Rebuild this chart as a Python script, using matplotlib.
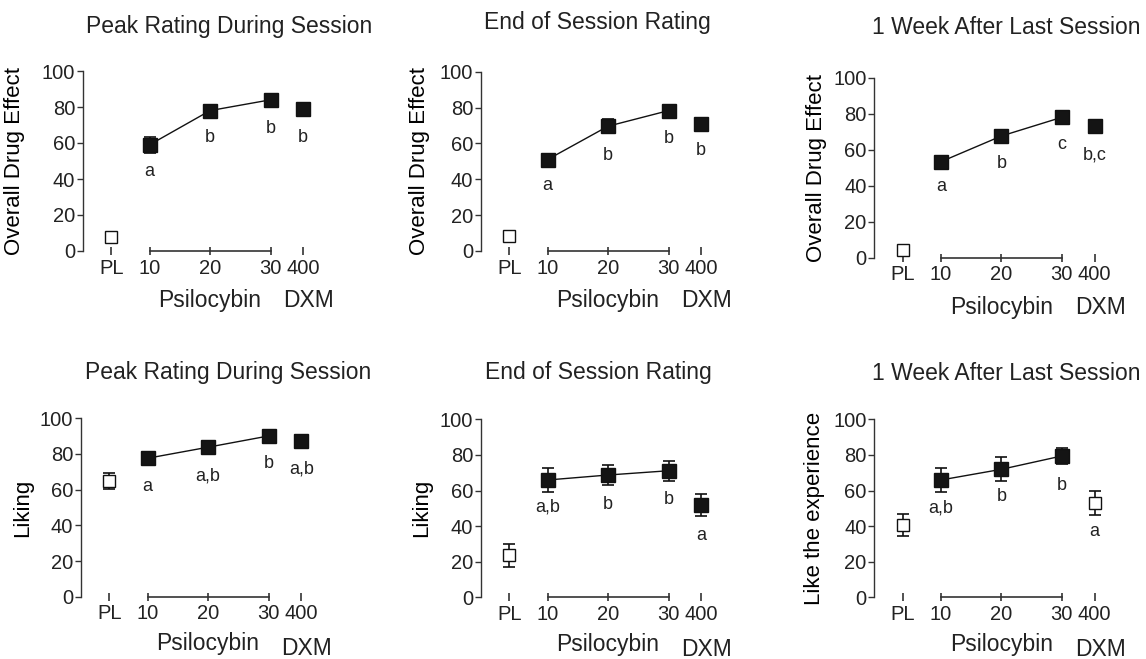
import matplotlib
matplotlib.use('Agg')
import matplotlib.pyplot as plt

plt.rcParams.update({
    'font.family': ['Liberation Sans', 'DejaVu Sans'],
    'text.color': '#222222',
    'axes.linewidth': 1.0,
    'axes.edgecolor': '#333333',
    'xtick.color': '#333333', 'ytick.color': '#333333',
    'xtick.labelcolor': '#222222', 'ytick.labelcolor': '#222222',
})

# ---- data ----
doses = ['PL', '10', '20', '30', '400']

peak_effect = [8, 59, 78, 84, 79]
peak_effect_err = [1, 4.5, 2.5, 1.5, 1.5]
end_effect = [8.5, 51, 69.6, 78.3, 71]
end_effect_err = [1.5, 1.5, 4, 2, 2]
week_effect = [4.3, 53.3, 67.6, 78, 73.3]
week_effect_err = [1, 1.5, 1.5, 1.5, 1.5]

peak_liking = [65, 77.6, 83.8, 90.1, 87.5]
peak_liking_err = [4.5, 2, 2, 2, 1.5]
end_liking = [23.5, 65.9, 68.7, 71.1, 51.9]
end_liking_err = [6.5, 6.5, 5.5, 5.5, 6]
week_like = [40.6, 65.9, 71.9, 79.4, 53.1]
week_like_err = [6, 6.5, 6.8, 4.5, 6.8]

peak_effect_letters = ['', 'a', 'b', 'b', 'b']
end_effect_letters = ['', 'a', 'b', 'b', 'b']
week_effect_letters = ['', 'a', 'b', 'c', 'b,c']
peak_liking_letters = ['', 'a', 'a,b', 'b', 'a,b']
end_liking_letters = ['', 'a,b', 'b', 'b', 'a']
week_like_letters = ['', 'a,b', 'b', 'b', 'a']

# letter label heights (text placement, data units)
peak_effect_ly = [0, 44, 63, 68, 63]
end_effect_ly = [0, 36.3, 53, 63, 56]
week_effect_ly = [0, 39.4, 52.4, 63, 57]
peak_liking_ly = [0, 62, 67.9, 74.4, 71.4]
end_liking_ly = [0, 50.9, 51.9, 55, 35]
week_like_ly = [0, 50, 56.5, 62.7, 36.8]

# ---- layout ----
W, H = 1146, 659
x_pos = [-0.63, 0, 1, 2, 2.54]
XL = (-1.1, 2.9)
AXW = 242.0

fig = plt.figure(figsize=(W / 100, H / 100), dpi=100)

panels = [
    # left, y0, y100, title, title (x, baseline), ylabel, ylabel right px, values, err, letters, ly, open400, row
    (83, 251, 71, 'Peak Rating During Session', (229, 33), 'Overall Drug Effect', -58,
     peak_effect, peak_effect_err, peak_effect_letters, peak_effect_ly, False, 0),
    (481, 251, 71.7, 'End of Session Rating', (597, 28.5), 'Overall Drug Effect', -51,
     end_effect, end_effect_err, end_effect_letters, end_effect_ly, False, 0),
    (874.3, 257.7, 77.7, '1 Week After Last Session', (1006, 34), 'Overall Drug Effect', -47.6,
     week_effect, week_effect_err, week_effect_letters, week_effect_ly, False, 0),
    (81, 596.7, 418.3, 'Peak Rating During Session', (228, 379.5), 'Liking', -47.7,
     peak_liking, peak_liking_err, peak_liking_letters, peak_liking_ly, False, 1),
    (481, 597.3, 419.3, 'End of Session Rating', (598, 379.5), 'Liking', -49.3,
     end_liking, end_liking_err, end_liking_letters, end_liking_ly, False, 1),
    (874.3, 597.3, 419.3, '1 Week After Last Session', (1006, 379.5), 'Like the experience', -49.3,
     week_like, week_like_err, week_like_letters, week_like_ly, True, 1),
]

FILL = '#141414'

for (left, y0, y100, title, tpos, ylab, ylx, vals, errs, letters, ly, open400, row) in panels:
    ax = fig.add_axes([left / W, (H - y0) / H, AXW / W, (y0 - y100) / H])
    ax.set_xlim(*XL)
    ax.set_ylim(0, 100)
    for s in ('top', 'right'):
        ax.spines[s].set_visible(False)
    ax.spines['bottom'].set_bounds(x_pos[1], x_pos[3])
    ax.spines['bottom'].set_linewidth(1.2)
    ax.set_yticks([0, 20, 40, 60, 80, 100])
    ax.tick_params(axis='y', length=4, width=1, pad=1.5, labelsize=14.5)
    ax.set_xticks(x_pos)
    ax.set_xticklabels(doses)
    ax.tick_params(axis='x', direction='inout', length=6, width=1.2, pad=2.5, labelsize=14.5)

    # line through psilocybin doses
    ax.plot(x_pos[1:4], vals[1:4], color='#111111', lw=1.0, zorder=2)

    for i in range(5):
        is_open = (i == 0) or (i == 4 and open400)
        ax.errorbar(x_pos[i], vals[i], yerr=errs[i], fmt='none', ecolor='#111111',
                    elinewidth=1.2, capsize=4, capthick=1.2, zorder=3, clip_on=False)
        ax.plot(x_pos[i], vals[i], marker='s',
                ms=8.5 if is_open else 9.5,
                mfc='white' if is_open else FILL, mec='#111111',
                mew=1.0, ls='none', zorder=4, clip_on=False)
        if letters[i]:
            ax.text(x_pos[i], ly[i], letters[i], ha='center', va='center',
                    fontsize=13, zorder=5)

    ax.set_ylabel(ylab, fontsize=16)
    ax.yaxis.set_label_coords(ylx / AXW, 0.5)

    dy_psi = -40.5 if row == 0 else -38.5
    dy_dxm = -40.5 if row == 0 else -42
    ax.annotate('Psilocybin', xy=(x_pos[2], 0), xycoords=('data', 'axes fraction'),
                xytext=(0, dy_psi), textcoords='offset points',
                ha='center', va='baseline', fontsize=16.5, annotation_clip=False)
    ax.annotate('DXM', xy=(x_pos[4], 0), xycoords=('data', 'axes fraction'),
                xytext=(4, dy_dxm), textcoords='offset points',
                ha='center', va='baseline', fontsize=16.5, annotation_clip=False)

    fig.text(tpos[0] / W, 1 - tpos[1] / H, title, ha='center', va='baseline', fontsize=16.5)

fig.savefig('out.png', dpi=100)
